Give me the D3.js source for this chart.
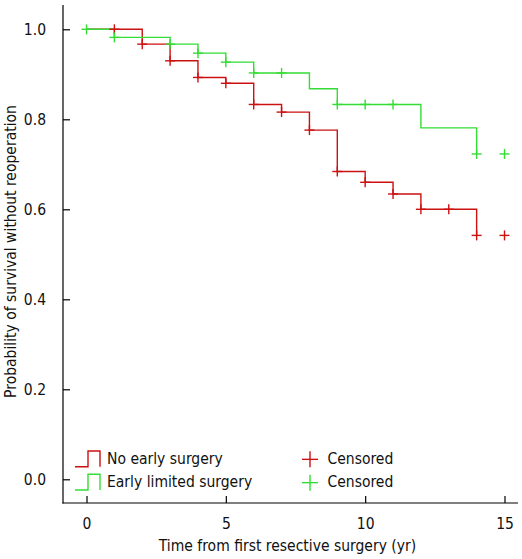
<!DOCTYPE html>
<html><head><meta charset="utf-8">
<script src="https://cdn.jsdelivr.net/npm/d3@7"></script>
<style>body{margin:0;background:#fff}svg{display:block}text{font-family:Tahoma,"DejaVu Sans Condensed","DejaVu Sans",sans-serif;fill:#111}</style>
</head><body>
<script>
// Kaplan-Meier step data: time at which each step begins, survival value
const redTimes = [0, 2, 3, 4, 5, 6, 7, 8, 9, 10, 11, 12, 14];
const redSurv  = [1.0, 0.967, 0.930, 0.893, 0.880, 0.833, 0.816, 0.776, 0.684, 0.660, 0.634, 0.600, 0.542];
const redCensorTimes = [1, 2, 3, 4, 5, 6, 7, 8, 9, 10, 11, 12, 13, 14, 15];

const greenTimes = [0, 1, 3, 4, 5, 6, 8, 9, 12, 14];
const greenSurv  = [1.0, 0.982, 0.967, 0.947, 0.927, 0.903, 0.868, 0.833, 0.781, 0.723];
const greenCensorTimes = [0, 1, 3, 4, 5, 6, 7, 9, 10, 11, 14, 15];

const xTicks = [0, 5, 10, 15];
const yTicks = [0, 0.2, 0.4, 0.6, 0.8, 1.0];
const seriesNames = ["No early surgery", "Early limited surgery"];
const censorLabel = "Censored";
const xTitle = "Time from first resective surgery (yr)";
const yTitle = "Probability of survival without reoperation";

const RED = "#cc1111", GREEN = "#33dd33";
const FS = 15.5;
const FONT = 'Tahoma,"DejaVu Sans Condensed","DejaVu Sans",sans-serif';
const W = 522, H = 559;
const svg = d3.select("body").append("svg").attr("width", W).attr("height", H);

const x = d3.scaleLinear().domain([0, 15]).range([86.5, 504.5]);
const y = d3.scaleLinear().domain([0, 1]).range([479.3, 29.3]);

// spines
svg.append("line").attr("x1", 63).attr("x2", 63).attr("y1", 5).attr("y2", 503.5).attr("stroke", "#000").attr("stroke-width", 1.2);
svg.append("line").attr("x1", 62.5).attr("x2", 518).attr("y1", 503).attr("y2", 503).attr("stroke", "#000").attr("stroke-width", 1.2);

const yAxis = svg.append("g").attr("transform", "translate(63,0)")
  .call(d3.axisLeft(y).tickValues(yTicks).tickFormat(d3.format(".1f")).tickSize(-7).tickPadding(17));
yAxis.select(".domain").remove();
yAxis.selectAll("line").attr("stroke", "#000").attr("stroke-width", 1.2);
yAxis.selectAll("text").attr("font-size", FS).attr("fill", "#111").style("font-family", FONT);

const xAxis = svg.append("g").attr("transform", "translate(0,503)")
  .call(d3.axisBottom(x).tickValues(xTicks).tickFormat(d3.format("d")).tickSize(-7).tickPadding(15));
xAxis.select(".domain").remove();
xAxis.selectAll("line").attr("stroke", "#000").attr("stroke-width", 1.2);
xAxis.selectAll("text").attr("font-size", FS).attr("fill", "#111").style("font-family", FONT);

// titles
svg.append("text").attr("x", 287.5).attr("y", 551).attr("text-anchor", "middle").attr("font-size", FS).text(xTitle);
svg.append("text").attr("transform", "translate(16,251.5) rotate(-90)").attr("text-anchor", "middle").attr("font-size", FS).text(yTitle);

function stepPath(times, surv) {
  const pts = times.map((t, i) => [t, surv[i]]);
  return d3.line().x(d => x(d[0])).y(d => y(d[1])).curve(d3.curveStepAfter)(pts);
}
function survAt(times, surv, t) {
  let v = surv[0];
  for (let i = 0; i < times.length; i++) if (times[i] <= t) v = surv[i];
  return v;
}

svg.append("path").attr("d", stepPath(redTimes, redSurv)).attr("fill", "none").attr("stroke", RED).attr("stroke-width", 1.4);
svg.append("path").attr("d", stepPath(greenTimes, greenSurv)).attr("fill", "none").attr("stroke", GREEN).attr("stroke-width", 1.4);

function censor(g, cTimes, times, surv, color) {
  cTimes.forEach(t => {
    const cx = x(t), cy = y(survAt(times, surv, t));
    g.append("line").attr("x1", cx - 5).attr("x2", cx + 5).attr("y1", cy).attr("y2", cy).attr("stroke", color).attr("stroke-width", 1.4);
    g.append("line").attr("x1", cx).attr("x2", cx).attr("y1", cy - 5).attr("y2", cy + 5).attr("stroke", color).attr("stroke-width", 1.4);
  });
}
censor(svg.append("g"), redCensorTimes, redTimes, redSurv, RED);
censor(svg.append("g"), greenCensorTimes, greenTimes, greenSurv, GREEN);

// legend
const leg = [{c: RED, yLow: 466.7, yHigh: 451, ty: 464, name: seriesNames[0]},
             {c: GREEN, yLow: 490, yHigh: 474.3, ty: 486.7, name: seriesNames[1]}];
leg.forEach(l => {
  svg.append("path").attr("d", `M75,${l.yLow}H88V${l.yHigh}H100V${l.yLow}`).attr("fill", "none").attr("stroke", l.c).attr("stroke-width", 1.4);
  svg.append("text").attr("x", 107).attr("y", l.ty).attr("font-size", FS).text(l.name);
  const cy = (l.yLow + l.yHigh) / 2 + 0.5;
  svg.append("line").attr("x1", 302).attr("x2", 318).attr("y1", cy).attr("y2", cy).attr("stroke", l.c).attr("stroke-width", 1.4);
  svg.append("line").attr("x1", 310).attr("x2", 310).attr("y1", cy - 8).attr("y2", cy + 8).attr("stroke", l.c).attr("stroke-width", 1.4);
  svg.append("text").attr("x", 327.5).attr("y", l.ty).attr("font-size", FS).text(censorLabel);
});
</script>
</body></html>
